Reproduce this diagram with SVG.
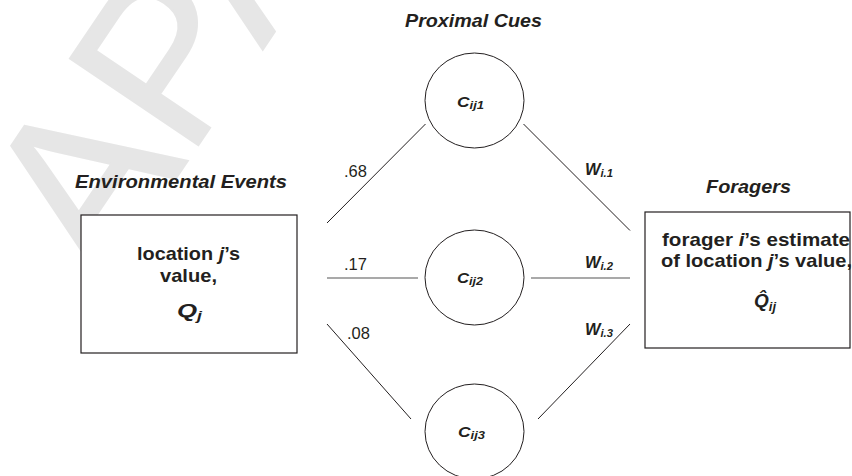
<svg xmlns="http://www.w3.org/2000/svg" width="852" height="476" viewBox="0 0 852 476">
<style>
.wm{font-family:"Liberation Sans",Arial,sans-serif;font-size:225px;fill:#e6e6e6;stroke:#e6e6e6;stroke-width:2}
.hdr{font-family:"Liberation Sans",Arial,sans-serif;font-weight:bold;font-style:italic;font-size:19px;fill:#231f20}
.bx{font-family:"Liberation Sans",Arial,sans-serif;font-weight:bold;font-size:19px;fill:#231f20}
.it{font-style:italic}
.num{font-family:"Liberation Sans",Arial,sans-serif;font-size:16.5px;fill:#231f20}
.lab{font-family:"Liberation Sans",Arial,sans-serif;font-weight:bold;font-style:italic;fill:#231f20}
.node{fill:#fff;stroke:#231f20;stroke-width:1.2}
.cue{fill:#fff;stroke:#231f20;stroke-width:1}
.edge{stroke:#231f20;stroke-width:1;fill:none}
.hedge{stroke:#555;stroke-width:1.2;fill:none}
</style>
<rect width="852" height="476" fill="#fff"/>
<text class="wm" transform="translate(104,285) rotate(-56)">APA</text>

<text class="hdr" x="405" y="27" textLength="137" lengthAdjust="spacingAndGlyphs">Proximal Cues</text>
<text class="hdr" x="75" y="188" textLength="212" lengthAdjust="spacingAndGlyphs">Environmental Events</text>
<text class="hdr" x="706" y="193" textLength="85" lengthAdjust="spacingAndGlyphs">Foragers</text>

<g id="connectors">
<line class="edge" x1="327" y1="223" x2="425.5" y2="124"/>
<line class="hedge" x1="327" y1="278" x2="418" y2="278"/>
<line class="edge" x1="327" y1="324" x2="411" y2="419"/>
<line class="edge" x1="523.5" y1="124" x2="630" y2="230.5"/>
<line class="hedge" x1="531" y1="278" x2="630" y2="278"/>
<line class="edge" x1="630" y1="324" x2="538" y2="419"/>
<text class="num" x="344" y="177">.68</text>
<text class="num" x="344" y="270">.17</text>
<text class="num" x="347" y="339">.08</text>
<text class="lab" x="585" y="175" font-size="16" textLength="28" lengthAdjust="spacingAndGlyphs">W<tspan font-size="11" dy="2">i.1</tspan></text>
<text class="lab" x="585" y="268" font-size="16" textLength="28" lengthAdjust="spacingAndGlyphs">W<tspan font-size="11" dy="2">i.2</tspan></text>
<text class="lab" x="585" y="335" font-size="16" textLength="28" lengthAdjust="spacingAndGlyphs">W<tspan font-size="11" dy="2">i.3</tspan></text>
</g>

<g id="environment">
<rect class="node" x="81" y="215" width="216" height="138"/>
<text class="bx" x="137" y="260" textLength="103" lengthAdjust="spacingAndGlyphs">location <tspan class="it">j</tspan>’s</text>
<text class="bx" x="160" y="282" textLength="57" lengthAdjust="spacingAndGlyphs">value,</text>
<text class="lab" x="177" y="317" font-size="19" textLength="25" lengthAdjust="spacingAndGlyphs">Q<tspan font-size="13" dy="3">j</tspan></text>
</g>

<g id="cue1">
<ellipse class="cue" cx="474.5" cy="100.5" rx="49.5" ry="47.5"/>
<text class="lab" x="457" y="107" font-size="14" textLength="27" lengthAdjust="spacingAndGlyphs">C<tspan font-size="10.5" dy="2">ij1</tspan></text>
</g>
<g id="cue2">
<ellipse class="cue" cx="474.5" cy="277.5" rx="49.5" ry="47.5"/>
<text class="lab" x="457" y="283" font-size="14" textLength="26" lengthAdjust="spacingAndGlyphs">C<tspan font-size="10.5" dy="2">ij2</tspan></text>
</g>
<g id="cue3">
<ellipse class="cue" cx="474.5" cy="431.5" rx="49.5" ry="47.5"/>
<text class="lab" x="458" y="437" font-size="14" textLength="27" lengthAdjust="spacingAndGlyphs">C<tspan font-size="10.5" dy="2">ij3</tspan></text>
</g>

<g id="forager">
<rect class="node" x="645" y="212" width="205" height="136"/>
<text class="bx" x="662" y="246" textLength="188" lengthAdjust="spacingAndGlyphs">forager <tspan class="it">i</tspan>’s estimate</text>
<text class="bx" x="661" y="267" textLength="191" lengthAdjust="spacingAndGlyphs">of location <tspan class="it">j</tspan>’s value,</text>
<text class="lab" x="754" y="307" font-size="19">Q̂<tspan font-size="13" dy="4">ij</tspan></text>
</g>
</svg>
